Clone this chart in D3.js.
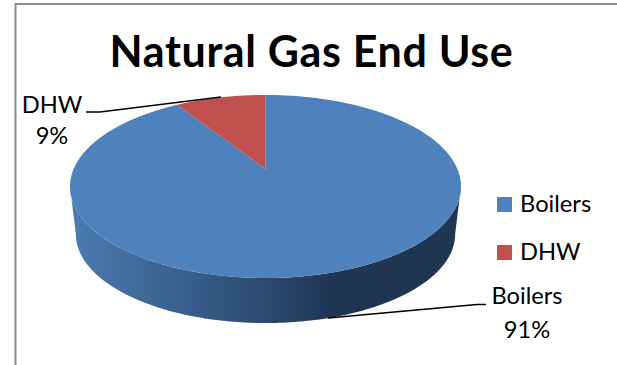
<!DOCTYPE html>
<html lang="en">
<meta charset="utf-8">
<style>

html, body {
  margin: 0;
  background: #fff;
}

svg {
  display: block;
  font-family: Lato, sans-serif;
}

.label, .legend text {
  font-size: 23.7px;
  fill: #000;
}

.leader {
  fill: none;
  stroke: #000;
  stroke-width: 1.6;
}

</style>
<body>
<svg width="617" height="365"></svg>
<script src="https://d3js.org/d3.v7.min.js"></script>
<script>

var categories = ["Boilers", "DHW"];
var shares = [91, 9];
var sliceColors = ["#4f81bd", "#c0504d"];
var chartTitle = "Natural Gas End Use";

var svg = d3.select("svg"),
    width = +svg.attr("width"),
    height = +svg.attr("height");

// chart frame, runs off the right and bottom of the page
svg.append("path")
    .attr("d", "M15.5," + height + "V4H" + width)
    .attr("fill", "none")
    .attr("stroke", "#8c8c8c")
    .attr("stroke-width", 2);

svg.append("text")
    .attr("x", 311.5)
    .attr("y", 67)
    .attr("text-anchor", "middle")
    .attr("font-size", 43)
    .attr("font-weight", "bold")
    .attr("letter-spacing", 0.65)
    .text(chartTitle);

// perspective disc: tilt pushes the far edge together and the near edge apart
var tilt = 0.191;

function project(angle, lift, scale) {
  var w = 1 + tilt * Math.cos(angle);
  return [
    265.5 + scale * 191.9 * Math.sin(angle) / w,
    169 + lift - scale * 88.2 * Math.cos(angle) / w
  ];
}

var line = d3.line();

function arcPoints(a0, a1, lift, scale) {
  return d3.range(0, 181).map(function(i) {
    return project(a0 + (a1 - a0) * i / 180, lift, scale);
  });
}

var wallGradient = svg.append("defs").append("linearGradient")
    .attr("id", "wall")
    .attr("gradientUnits", "userSpaceOnUse")
    .attr("x1", 70).attr("x2", 461)
    .attr("y1", 0).attr("y2", 0);

wallGradient.selectAll("stop")
    .data([[0, "#4a7bb2"], [0.12, "#44709f"], [0.3, "#385e8c"], [0.5, "#2b4a6f"], [0.68, "#1f3552"], [1, "#1f3552"]])
    .enter().append("stop")
    .attr("offset", function(d) { return d[0]; })
    .attr("stop-color", function(d) { return d[1]; });

// side wall, between the silhouette points of the disc (cos = -tilt)
var edgeAngle = Math.acos(-tilt),
    wallTop = arcPoints(edgeAngle, 2 * Math.PI - edgeAngle, 0, 1),
    wallBottom = arcPoints(2 * Math.PI - edgeAngle, edgeAngle, 48.3, 0.97);

svg.append("path")
    .attr("d", line(wallTop.concat(wallBottom)) + "Z")
    .attr("fill", "url(#wall)");

var pie = d3.pie().sort(null);

svg.append("g")
  .selectAll("path")
  .data(pie(shares))
  .enter().append("path")
    .attr("fill", function(d, i) { return sliceColors[i]; })
    .attr("d", function(d) {
      return line([project(0, 0, 0)].concat(arcPoints(d.startAngle, d.endAngle, 0, 1))) + "Z";
    });

// leader lines
svg.append("path")
    .attr("class", "leader")
    .attr("d", line([[86, 112], [100, 112], [221, 97]]));

svg.append("path")
    .attr("class", "leader")
    .attr("d", line([[486, 304.5], [477, 304.5], [328, 318]]));

var labelSpots = [[527, 304, 338], [52, 112.5, 144]];

categories.forEach(function(name, i) {
  var spot = labelSpots[i];
  svg.append("text")
      .attr("class", "label")
      .attr("x", spot[0])
      .attr("y", spot[1])
      .attr("text-anchor", "middle")
      .text(name);
  svg.append("text")
      .attr("class", "label")
      .attr("x", spot[0])
      .attr("y", spot[2])
      .attr("text-anchor", "middle")
      .text(shares[i] + "%");
});

var legendY = d3.scalePoint()
    .domain(categories)
    .range([197, 245]);

var legend = svg.append("g")
    .attr("class", "legend")
  .selectAll("g")
  .data(categories)
  .enter().append("g")
    .attr("transform", function(d) { return "translate(497," + legendY(d) + ")"; });

legend.append("rect")
    .attr("width", 15)
    .attr("height", 15)
    .attr("fill", function(d, i) { return sliceColors[i]; });

legend.append("text")
    .attr("x", 23)
    .attr("y", 15)
    .text(function(d) { return d; });

</script>
</body>
</html>
